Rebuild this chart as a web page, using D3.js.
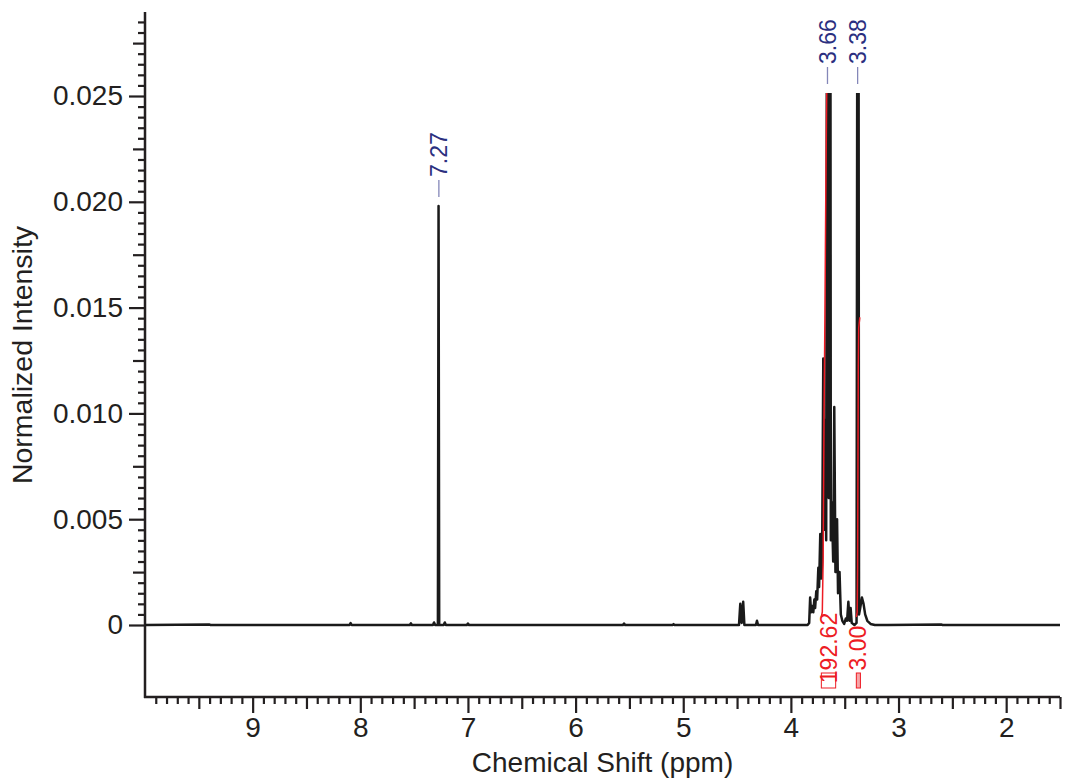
<!DOCTYPE html>
<html lang="en">
<head>
  <meta charset="UTF-8">
  <title>1H NMR spectrum</title>
  <script src="https://d3js.org/d3.v7.min.js"></script>
  <style>
    html, body {
      margin: 0;
      padding: 0;
      background: white;
      font-family: "Liberation Sans", Arial, sans-serif;
    }
    svg { display: block; }
  </style>
</head>
<body>
<svg width="1065" height="782"></svg>

<script>
// ---- data ----
const ppmTicks = [9, 8, 7, 6, 5, 4, 3, 2];
const intensityTicks = [0, 0.005, 0.010, 0.015, 0.020, 0.025];
const intensityLabels = ["0", "0.005", "0.010", "0.015", "0.020", "0.025"];

// spectrum trace, [ppm, normalized intensity]
const baselinePart = [
  [10.0, 0], [9.4, 0.00002], [9.39, 0],
  [8.10, 0], [8.09, 0.00009], [8.08, 0],
  [7.54, 0], [7.53, 0.00008], [7.52, 0],
  [7.325, 0], [7.315, 0.00012], [7.305, 0],
  [7.279, 0], [7.273, 0.0198], [7.267, 0],
  [7.225, 0], [7.215, 0.00012], [7.205, 0],
  [7.01, 0], [7.00, 0.00007], [6.99, 0],
  [5.56, 0], [5.55, 0.00007], [5.54, 0],
  [5.10, 0], [5.09, 0.00004], [5.08, 0],
  [4.482, 0], [4.470, 0.0010], [4.457, 0.0001], [4.443, 0.0011], [4.432, 0],
  [4.325, 0], [4.315, 0.0002], [4.305, 0]
];
const clusterPart = [
  [3.845, 0], [3.830, 0.0001], [3.821, 0.0013], [3.812, 0.0006], [3.800, 0.0009],
  [3.792, 0.0006], [3.782, 0.0012], [3.775, 0.0008], [3.764, 0.0016], [3.756, 0.0012],
  [3.745, 0.0027], [3.738, 0.0018], [3.727, 0.0043], [3.717, 0.0022], [3.710, 0.0030],
  [3.699, 0.0126], [3.690, 0.0045], [3.680, 0.0097], [3.672, 0.0040],
  [3.658, 0.060], [3.648, 0.0060], [3.637, 0.060], [3.629, 0.0040],
  [3.620, 0.0058], [3.607, 0.0030], [3.597, 0.0103], [3.586, 0.0025],
  [3.571, 0.0050], [3.562, 0.0015], [3.548, 0.0025], [3.536, 0.0005],
  [3.522, 0.0002], [3.505, 0.00005], [3.490, 0.0003], [3.478, 0.0002],
  [3.466, 0.0011], [3.455, 0.0002], [3.445, 0.0008], [3.435, 0.0001],
  [3.410, 0], [3.390, 0.0001], [3.376, 0.060], [3.367, 0.0005],
  [3.356, 0.0008], [3.340, 0.0013], [3.325, 0.0010], [3.310, 0.0005],
  [3.290, 0.0002], [3.260, 0.00005], [3.220, 0]
];
const tailPart = [[3.10, 0], [2.60, 0.00002], [2.59, 0], [1.5, 0]];

const peakLabels = [
  { ppm: 7.27, text: "7.27" },
  { ppm: 3.66, text: "3.66" },
  { ppm: 3.38, text: "3.38" }
];

// integral curves, [ppm, cumulative integral]
const integral1 = [
  [3.717, 0], [3.708, 0.05], [3.700, 0.6], [3.692, 2.0], [3.684, 3.0],
  [3.676, 4.2], [3.666, 5.4], [3.640, 60], [3.600, 170], [3.584, 192.62]
];
const integral2 = [
  [3.392, 0], [3.384, 0.05], [3.380, 0.5], [3.377, 1.5], [3.374, 2.5],
  [3.370, 2.9], [3.360, 3.0], [3.354, 3.0]
];
const integralLabels = [
  { text: "192.62", from: 3.717, to: 3.584, curve: integral1, filled: false },
  { text: "3.00", from: 3.392, to: 3.354, curve: integral2, filled: true }
];

// ---- layout ----
const ink = "#231f20";
const axisX = 145, axisY = 697, axisTop = 12, plotRight = 1060;
const clipTop = 93;

const svg = d3.select("svg");

const x = d3.scaleLinear().domain([10, 1.5]).range([axisX, plotRight]);
const y = d3.scaleLinear().domain([0, 0.025]).range([625, 96]);
const yInt = d3.scaleLinear().domain([0, 3]).range([617, 318]);

svg.append("clipPath").attr("id", "plotClip")
  .append("rect")
  .attr("x", axisX).attr("y", clipTop)
  .attr("width", plotRight - axisX).attr("height", axisY - clipTop);

// ---- axes ----
function styleAxis(g) {
  g.select(".domain").remove();
  g.selectAll(".tick line").attr("stroke", ink).attr("stroke-width", 2.2);
  g.selectAll(".tick text").attr("fill", ink)
    .attr("font-family", "'Liberation Sans', Arial, sans-serif")
    .attr("font-size", 28);
}

const tenths = d3.range(15, 101).map(v => v / 10);
const xMinor = tenths.filter(v => Math.round(v * 10) % 5 !== 0);
const xMedium = tenths.filter(v => Math.round(v * 10) % 10 === 5);

svg.append("g").attr("transform", `translate(0,${axisY})`)
  .call(d3.axisBottom(x).tickValues(xMinor).tickSize(7).tickFormat(""))
  .call(styleAxis);
svg.append("g").attr("transform", `translate(0,${axisY})`)
  .call(d3.axisBottom(x).tickValues(xMedium).tickSize(12).tickFormat(""))
  .call(styleAxis);
svg.append("g").attr("transform", `translate(0,${axisY})`)
  .call(d3.axisBottom(x).tickValues(ppmTicks).tickSize(16).tickPadding(4).tickFormat(d3.format("d")))
  .call(styleAxis);

const halfThou = d3.range(0, 58).map(v => v / 2000);
const yMinor = halfThou.filter((v, i) => i % 5 !== 0);
const yMedium = halfThou.filter((v, i) => i % 10 === 5);

svg.append("g").attr("transform", `translate(${axisX},0)`)
  .call(d3.axisLeft(y).tickValues(yMinor).tickSize(7).tickFormat(""))
  .call(styleAxis);
svg.append("g").attr("transform", `translate(${axisX},0)`)
  .call(d3.axisLeft(y).tickValues(yMedium).tickSize(12).tickFormat(""))
  .call(styleAxis);
svg.append("g").attr("transform", `translate(${axisX},0)`)
  .call(d3.axisLeft(y).tickValues(intensityTicks).tickSize(16).tickPadding(6)
    .tickFormat((d, i) => intensityLabels[i]))
  .call(styleAxis);

svg.append("line")
  .attr("x1", axisX).attr("x2", axisX).attr("y1", axisTop).attr("y2", axisY + 1)
  .attr("stroke", ink).attr("stroke-width", 2.5);
svg.append("line")
  .attr("x1", axisX - 1).attr("x2", plotRight).attr("y1", axisY).attr("y2", axisY)
  .attr("stroke", ink).attr("stroke-width", 2.5);

svg.append("text")
  .attr("x", (axisX + plotRight) / 2).attr("y", 772)
  .attr("text-anchor", "middle").attr("font-size", 28).attr("fill", ink)
  .text("Chemical Shift (ppm)");

svg.append("text")
  .attr("transform", "translate(32,355) rotate(-90)")
  .attr("text-anchor", "middle").attr("font-size", 28.5).attr("fill", ink)
  .text("Normalized Intensity");

// ---- spectrum ----
const spectrum = [...baselinePart, ...clusterPart, ...tailPart];
const plot = svg.append("g").attr("clip-path", "url(#plotClip)");

plot.append("path")
  .datum(spectrum)
  .attr("fill", "none")
  .attr("stroke", "#1a1a1a")
  .attr("stroke-width", 2.5)
  .attr("stroke-linejoin", "round")
  .attr("d", d3.line().x(d => x(d[0])).y(d => y(d[1])));

// ---- integrals ----
const red = "#ed1c24";
integralLabels.forEach(it => {
  plot.append("path")
    .datum(it.curve)
    .attr("fill", "none")
    .attr("stroke", red)
    .attr("stroke-width", 1.5)
    .attr("d", d3.line().x(d => x(d[0])).y(d => yInt(d[1])));

  const x0 = x(it.from), x1 = x(it.to);
  svg.append("rect")
    .attr("x", x0).attr("y", 673)
    .attr("width", x1 - x0).attr("height", 15)
    .attr("fill", it.filled ? "#f6a5a8" : "none")
    .attr("stroke", red).attr("stroke-width", 1);

  const cx = (x0 + x1) / 2;
  svg.append("text")
    .attr("transform", `translate(${cx},648) rotate(-90)`)
    .attr("text-anchor", "middle").attr("dy", "0.35em")
    .attr("font-size", 23).attr("fill", red)
    .text(it.text);
});

// ---- peak labels ----
peakLabels.forEach(p => {
  const near = spectrum.filter(d => Math.abs(d[0] - p.ppm) < 0.025);
  const top = Math.max(y(d3.max(near, d => d[1])), clipTop);
  const px = x(p.ppm);
  const lineBottom = top - 9;
  const lineTop = lineBottom - 17;
  svg.append("line")
    .attr("x1", px).attr("x2", px).attr("y1", lineTop).attr("y2", lineBottom)
    .attr("stroke", "#8487b8").attr("stroke-width", 1.3);
  svg.append("text")
    .attr("transform", `translate(${px},${lineTop - 3}) rotate(-90)`)
    .attr("text-anchor", "start").attr("dy", "0.35em")
    .attr("font-size", 23).attr("fill", "#2b2f7f")
    .text(p.text);
});
</script>
</body>
</html>
